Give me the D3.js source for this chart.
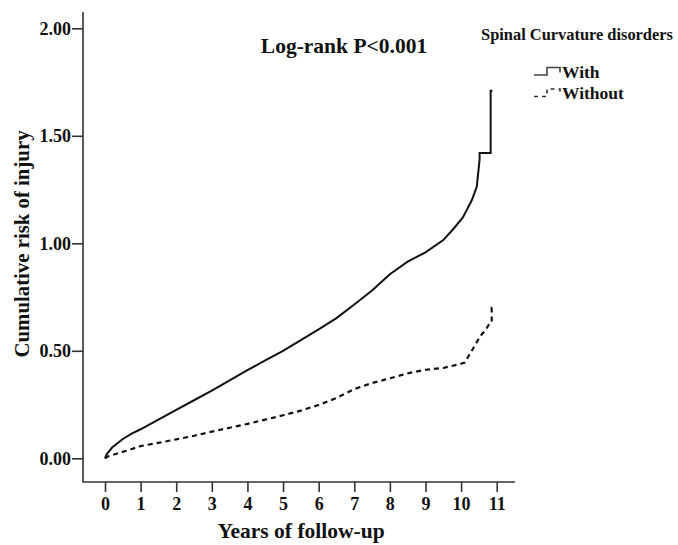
<!DOCTYPE html>
<html>
<head>
<meta charset="utf-8">
<script src="https://cdn.jsdelivr.net/npm/d3@7"></script>
<style>
  body { margin: 0; background: #fff; }
  text { font-family: "Liberation Serif", "Times New Roman", serif; font-weight: bold; fill: #111; }
</style>
</head>
<body>
<div id="chart"></div>
<script>
const WIDTH = 678;
const HEIGHT = 545;

// Kaplan-Meier style cumulative risk
const withYears = [0,0.05,0.1,0.2,0.35,0.5,0.75,1,1.5,2,2.5,3,3.5,4,4.5,5,5.5,6,6.5,7,7.5,8,8.5,9,9.5,9.8,10.05,10.3,10.44,10.52,10.52,10.83,10.83,10.88];
const withRisk  = [0,0.02,0.03,0.05,0.07,0.09,0.115,0.135,0.18,0.225,0.27,0.315,0.362,0.41,0.455,0.5,0.55,0.6,0.652,0.715,0.78,0.856,0.915,0.958,1.015,1.07,1.12,1.2,1.263,1.39,1.42,1.42,1.71,1.71];

const withoutYears = [0,0.1,0.3,0.6,1,1.5,2,2.5,3,3.5,4,4.5,5,5.5,6,6.5,7,7.5,8,8.5,9,9.5,10,10.1,10.3,10.53,10.7,10.81,10.86,10.86,10.9];
const withoutRisk  = [0,0.01,0.02,0.035,0.057,0.072,0.088,0.105,0.124,0.142,0.16,0.18,0.2,0.222,0.248,0.28,0.322,0.35,0.372,0.395,0.412,0.42,0.44,0.445,0.5,0.566,0.6,0.63,0.635,0.70,0.70];

const xTicks = [0,1,2,3,4,5,6,7,8,9,10,11];
const yTicks = [0,0.5,1,1.5,2];

const legendTitle = "Spinal Curvature disorders";
const legendLabels = ["With", "Without"];

function setup(){
    let svg = d3.select("#chart")
        .append("svg")
        .attr("width",WIDTH)
        .attr("height",HEIGHT);

    let x = d3.scaleLinear().domain([0,11]).range([105,496.7]);
    let y = d3.scaleLinear().domain([0,2]).range([458.3,28.3]);

    // axis frame (L shape)
    svg.append("path")
        .attr("d","M83,12 V482 H515")
        .attr("fill","none")
        .attr("stroke","#333")
        .attr("stroke-width",1.6);

    let xAxis = d3.axisBottom(x).tickValues(xTicks).tickFormat(d3.format("d")).tickSize(10).tickSizeOuter(0);
    let gx = svg.append("g").attr("transform","translate(0,482)").call(xAxis);
    gx.select(".domain").remove();
    gx.selectAll(".tick line").attr("stroke","#333").attr("stroke-width",1.6);
    gx.selectAll(".tick text")
        .attr("y",15)
        .style("font-size","18px")
        .style("font-family","Liberation Serif, serif")
        .style("font-weight","bold")
        .attr("fill","#111");

    let yAxis = d3.axisLeft(y).tickValues(yTicks).tickFormat(d3.format(".2f")).tickSize(11).tickSizeOuter(0);
    let gy = svg.append("g").attr("transform","translate(83,0)").call(yAxis);
    gy.select(".domain").remove();
    gy.selectAll(".tick line").attr("stroke","#333").attr("stroke-width",1.6);
    gy.selectAll(".tick text")
        .attr("x",-12)
        .style("font-size","18px")
        .style("font-family","Liberation Serif, serif")
        .style("font-weight","bold")
        .attr("fill","#111");

    let line = d3.line()
        .x(d=>x(d[0]))
        .y(d=>y(d[1]));

    svg.append("path")
        .datum(d3.zip(withYears,withRisk))
        .attr("d",line)
        .attr("fill","none")
        .attr("stroke","#111")
        .attr("stroke-width",2);

    svg.append("path")
        .datum(d3.zip(withoutYears,withoutRisk))
        .attr("d",line)
        .attr("fill","none")
        .attr("stroke","#111")
        .attr("stroke-width",2.2)
        .attr("stroke-dasharray","5,4");

    // titles
    svg.append("text")
        .attr("x",301)
        .attr("y",538)
        .attr("text-anchor","middle")
        .style("font-size","21.5px")
        .text("Years of follow-up");

    svg.append("text")
        .attr("transform","translate(29,244) rotate(-90)")
        .attr("text-anchor","middle")
        .style("font-size","20.8px")
        .text("Cumulative risk of injury");

    svg.append("text")
        .attr("x",344)
        .attr("y",53)
        .attr("text-anchor","middle")
        .style("font-size","21.5px")
        .text("Log-rank P<0.001");

    // legend
    svg.append("text")
        .attr("x",577)
        .attr("y",40)
        .attr("text-anchor","middle")
        .style("font-size","16.4px")
        .text(legendTitle);

    let legendY = [77.5, 99];
    let dash = [null, "4,4"];
    legendLabels.forEach((lab,i)=>{
        let ly = legendY[i];
        svg.append("path")
            .attr("d",`M534,${ly-2.5} H547 V${ly-10} H560 V${ly-5}`)
            .attr("fill","none")
            .attr("stroke", i==0 ? "#444" : "#333")
            .attr("stroke-width",1.6)
            .attr("stroke-dasharray",dash[i]);
        svg.append("text")
            .attr("x",562)
            .attr("y",ly)
            .style("font-size","17.5px")
            .text(lab);
    });
}

window.addEventListener("load",setup);
</script>
</body>
</html>
